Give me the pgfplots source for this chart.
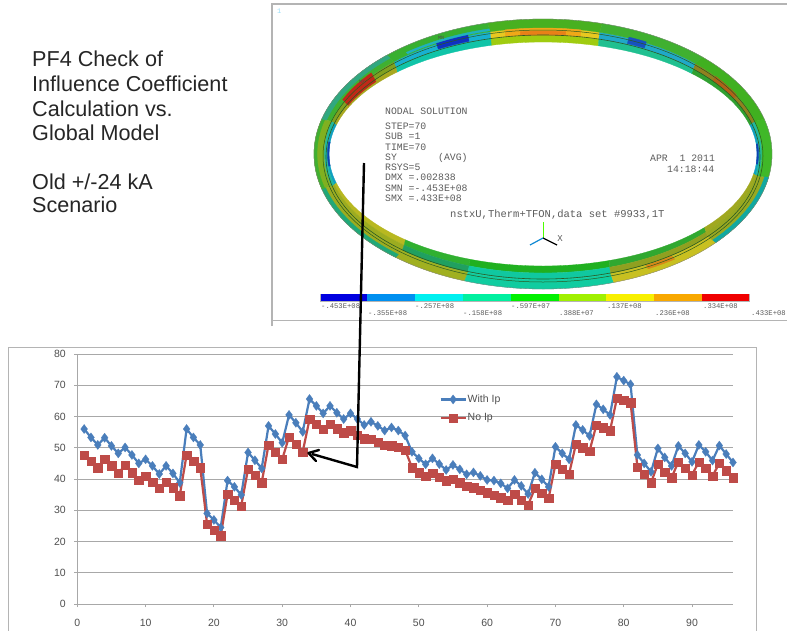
\documentclass[border=0pt]{standalone}
\usepackage{pgfplots}
\pgfplotsset{compat=1.18}
\usepackage{fontspec}
\setmainfont{Liberation Sans}
\newfontfamily\ansys{Liberation Mono}
\usetikzlibrary{calc}
\definecolor{ipblue}{HTML}{4A7EBB}
\definecolor{ipred}{HTML}{BE4B48}
\definecolor{gridgray}{HTML}{A8A8A8}
\definecolor{frameg}{HTML}{B4B4B4}
\definecolor{anstext}{HTML}{5C5C5C}
\definecolor{labgray}{HTML}{505050}
\definecolor{darkline}{HTML}{2A5A20}
\newcommand{\band}[7]{%
  \definecolor{tmpc}{HTML}{#7}%
  \fill[tmpc,draw=tmpc,line width=.3pt] ($(543pt,-154pt)+(#1:#5pt and #6pt)$)
    arc[start angle=#1,end angle=#2,x radius=#5pt,y radius=#6pt]
    -- ($(543pt,-154pt)+(#2:#3pt and #4pt)$)
    arc[start angle=#2,end angle=#1,x radius=#3pt,y radius=#4pt] -- cycle;}
\newcommand{\seg}[5]{%
  \band{#1}{#2}{214}{112}{216}{119}{#3}%
  \band{#1}{#2}{216}{119}{219}{126}{#4}%
  \band{#1}{#2}{219}{126}{229}{135}{#5}}
\newcommand{\cbar}[3]{%
  \definecolor{tmpc}{HTML}{#3}%
  \fill[tmpc] (#1pt,-294.3pt) rectangle (#2pt,-300.8pt);}
\pgfplotstableread{
x with noip
1 56.0 47.7
2 53.3 45.7
3 50.9 43.6
4 53.2 46.4
5 50.6 44.3
6 48.2 41.8
7 50.1 44.4
8 47.7 42.0
9 45.0 39.7
10 46.3 41.0
11 44.2 39.1
12 41.6 37.0
13 44.2 39.1
14 41.8 37.2
15 38.8 34.7
16 56.0 47.7
17 53.3 45.7
18 50.9 43.6
19 29.0 25.6
20 26.9 23.7
21 24.5 21.9
22 39.5 35.1
23 37.5 33.3
24 34.9 31.4
25 48.5 43.2
26 46.0 41.3
27 43.4 38.9
28 57.0 50.9
29 54.4 48.7
30 51.6 46.3
31 60.5 53.5
32 58.0 51.2
33 55.1 48.7
34 65.6 59.1
35 63.4 57.6
36 61.0 55.9
37 63.4 57.6
38 61.2 56.1
39 59.2 54.8
40 61.0 55.5
41 59.2 54.1
42 57.3 52.9
43 58.3 52.7
44 57.0 51.9
45 55.5 50.9
46 56.5 50.7
47 55.5 50.3
48 53.9 49.3
49 48.7 43.7
50 46.6 42.1
51 44.7 41.0
52 46.6 41.8
53 44.8 40.7
54 42.9 39.5
55 44.5 39.9
56 43.1 38.8
57 41.5 37.8
58 42.1 37.3
59 41.0 36.5
60 39.7 35.6
61 39.5 34.9
62 38.6 34.1
63 37.0 33.3
64 39.7 35.2
65 37.8 33.3
66 35.2 31.7
67 42.0 37.0
68 39.9 35.4
69 37.5 33.8
70 50.3 44.7
71 48.2 43.1
72 46.3 41.6
73 57.3 51.2
74 55.7 50.1
75 53.8 49.0
76 63.9 57.3
77 62.3 56.4
78 60.5 55.5
79 72.7 65.8
80 71.5 65.3
81 70.3 64.5
82 47.7 43.9
83 45.0 41.5
84 42.3 38.8
85 49.8 44.8
86 46.9 42.3
87 44.2 40.4
88 50.6 45.5
89 48.2 43.4
90 45.5 41.3
91 50.9 45.5
92 48.7 43.4
93 45.9 41.0
94 50.7 45.0
95 48.0 42.7
96 45.3 40.4
}\ipdata
\begin{document}
\begin{tikzpicture}
\useasboundingbox (0,0) rectangle (787pt,-630pt);
\fill[white] (0,0) rectangle (787pt,-630pt);
% title text
\begin{scope}[every node/.style={anchor=base west,inner sep=0pt,text=black!85}]
\node at (32pt,-66.7pt) {\fontsize{21.6}{24}\selectfont PF4 Check of};
\node at (32pt,-91.7pt) {\fontsize{21.6}{24}\selectfont Influence Coefficient};
\node at (32pt,-116pt) {\fontsize{21.6}{24}\selectfont Calculation vs.};
\node at (32pt,-140pt) {\fontsize{21.6}{24}\selectfont Global Model};
\node at (32pt,-189pt) {\fontsize{21.6}{24}\selectfont Old +/-24 kA};
\node at (32pt,-212.7pt) {\fontsize{21.6}{24}\selectfont Scenario};
\end{scope}
% upper frame
\draw[frameg,line width=1.3pt] (272pt,-326pt) -- (272pt,-4pt) -- (787pt,-4pt);
\draw[frameg,line width=1.3pt] (272pt,-320.5pt) -- (787pt,-320.5pt);
\node[anchor=base west,inner sep=0pt,text=cyan!40] at (277pt,-13pt) {\ansys\fontsize{7}{8}\selectfont 1};
% ring
\seg{75}{104}{A0CC10}{E8C820}{48B020}
\seg{104}{133}{10C4A8}{18B0D0}{38B030}
\seg{133}{165}{A8A820}{80A020}{40B030}
\seg{165}{195}{10A0C0}{20B8A0}{80B020}
\seg{195}{230}{B8B820}{9CAC20}{9CAC20}
\seg{230}{250}{30B030}{20A060}{A0B020}
\seg{250}{288}{20B020}{10C8A0}{10CCA0}
\seg{288}{319}{30A830}{90A020}{C8C020}
\seg{319}{350}{A0A820}{98A820}{98A820}
\seg{350}{375}{10A0C0}{20B8A0}{40B828}
\seg{15}{46}{30A030}{908020}{40B020}
\seg{46}{75}{20C090}{20A8C8}{40B030}
% outer rims and stronger spots
\band{195}{230}{225}{131}{229}{135}{20A878}
\band{319}{350}{225}{131}{229}{135}{10A8A0}
\band{165}{195}{226}{132}{229}{135}{40B030}
\band{80}{100}{216}{119}{219}{126}{F0A818}
\band{84}{96}{216}{119}{218}{123}{E88018}
\band{110}{119}{216}{120}{220}{127}{1030C0}
\band{104}{128}{220}{127}{222}{129}{20B0C0}
\band{141}{155}{215}{115}{221}{129}{C02818}
\band{133}{165}{224}{131}{229}{135}{30A880}
\band{62}{67}{216}{120}{220}{127}{1850C0}
\band{174}{186}{214}{112}{215.5}{117}{1040B0}
\band{-5}{5}{214}{112}{215.5}{117}{1040B0}
\band{28}{38}{216}{119}{219}{126}{B06018}
\band{298}{306}{219}{126}{224}{130}{D88818}
% dark structural lines
\draw[darkline,line width=.6pt] (543pt,-157pt) ellipse [x radius=217pt,y radius=122pt];
\draw[darkline,line width=.5pt] (543pt,-156pt) ellipse [x radius=220pt,y radius=126pt];
\draw[black!50,line width=.3pt] (543pt,-154pt) ellipse [x radius=229pt,y radius=135pt];
\node[inner sep=0pt,text=black!70] at (441pt,-38pt) {\ansys\fontsize{5}{6}\selectfont MN};
\node[inner sep=0pt,text=black!70] at (362pt,-82pt) {\ansys\fontsize{5}{6}\selectfont MX};
% triad
\draw[green!70!yellow,line width=1pt] (543pt,-238pt) -- (543pt,-222pt);
\draw[black,line width=1.2pt] (543pt,-238pt) -- (557pt,-245pt);
\draw[cyan!70!blue,line width=1.2pt] (543pt,-238pt) -- (530pt,-245pt);
\node[inner sep=0pt,text=anstext] at (560pt,-239pt) {\ansys\fontsize{9}{9}\selectfont X};
% ansys text
\begin{scope}[every node/.style={anchor=base west,inner sep=0pt,text=anstext}]
\node at (385pt,-114pt) {\ansys\fontsize{9.8}{10}\selectfont NODAL SOLUTION};
\node at (385pt,-129pt) {\ansys\fontsize{9.8}{10}\selectfont STEP=70};
\node at (385pt,-139pt) {\ansys\fontsize{9.8}{10}\selectfont SUB =1};
\node at (385pt,-150pt) {\ansys\fontsize{9.8}{10}\selectfont TIME=70};
\node at (385pt,-160pt) {\ansys\fontsize{9.8}{10}\selectfont SY\ \ \ \ \ \ \ (AVG)};
\node at (385pt,-170pt) {\ansys\fontsize{9.8}{10}\selectfont RSYS=5};
\node at (385pt,-180pt) {\ansys\fontsize{9.8}{10}\selectfont DMX =.002838};
\node at (385pt,-191pt) {\ansys\fontsize{9.8}{10}\selectfont SMN =-.453E+08};
\node at (385pt,-201pt) {\ansys\fontsize{9.8}{10}\selectfont SMX =.433E+08};
\node at (450pt,-217pt) {\ansys\fontsize{10.5}{11}\selectfont nstxU,Therm+TFON,data set \#9933,1T};
\node at (650pt,-161pt) {\ansys\fontsize{9.8}{10}\selectfont APR\ \ 1 2011};
\node at (667pt,-172pt) {\ansys\fontsize{9.8}{10}\selectfont 14:18:44};
\node at (321pt,-308pt) {\ansys\fontsize{7.2}{8}\selectfont -.453E+08};
\node at (415pt,-308pt) {\ansys\fontsize{7.2}{8}\selectfont -.257E+08};
\node at (511pt,-308pt) {\ansys\fontsize{7.2}{8}\selectfont -.597E+07};
\node at (607pt,-308pt) {\ansys\fontsize{7.2}{8}\selectfont .137E+08};
\node at (703pt,-308pt) {\ansys\fontsize{7.2}{8}\selectfont .334E+08};
\node at (368pt,-315pt) {\ansys\fontsize{7.2}{8}\selectfont -.355E+08};
\node at (463pt,-315pt) {\ansys\fontsize{7.2}{8}\selectfont -.158E+08};
\node at (559pt,-315pt) {\ansys\fontsize{7.2}{8}\selectfont .388E+07};
\node at (655pt,-315pt) {\ansys\fontsize{7.2}{8}\selectfont .236E+08};
\node at (751pt,-315pt) {\ansys\fontsize{7.2}{8}\selectfont .433E+08};
\end{scope}
% colour bar
\fill[frameg] (320.2pt,-293.5pt) rectangle (749.8pt,-301.5pt);
\cbar{321}{367.4}{0000E0}
\cbar{367.4}{415}{0090F0}
\cbar{415}{463.3}{00F0F0}
\cbar{463.3}{511}{00F0A0}
\cbar{511}{558.7}{00F000}
\cbar{558.7}{606.3}{A0F000}
\cbar{606.3}{654}{F8F000}
\cbar{654}{702}{F8A800}
\cbar{702}{749.3}{F00000}
% chart frame
\draw[frameg,line width=1pt,fill=white] (8pt,-640pt) -- (8pt,-347pt) -- (756pt,-347pt) -- (756pt,-640pt);
\begin{axis}[
  at={(77.3pt,-604pt)},anchor=south west,
  scale only axis,width=655.7pt,height=250pt,
  xmin=0,xmax=96,ymin=0,ymax=80,
  axis x line*=bottom,axis y line*=left,
  axis line style={gridgray,line width=.9pt,-},
  xtick={0,10,...,90},ytick={0,10,...,80},
  tick align=outside,
  major tick length=3pt,
  tick style={gridgray,line width=.9pt},
  ymajorgrids,
  grid style={gridgray,line width=1pt},
  clip=false,
  /pgf/number format/assume math mode=true,
  tick label style={font=\fontsize{10.5}{12}\selectfont,text=labgray},
  x tick label style={yshift=-9pt},
  y tick label style={xshift=-5pt},
  legend cell align=left,
  legend style={at={(axis cs:53,67)},anchor=north west,draw=none,fill=none,
    font=\fontsize{10.5}{12}\selectfont,text=labgray,row sep=9.5pt,inner sep=0pt,
    nodes={inner xsep=1pt,inner ysep=0pt}},
  legend image code/.code={\draw[mark repeat=2,mark phase=2,#1] plot coordinates {(0pt,0pt)(12.5pt,0pt)(25pt,0pt)};},
]
\addplot[ipblue,line width=2.2pt,mark=diamond*,mark size=4.6pt,mark options={fill=ipblue,draw=ipblue,line width=.2pt}] table[x=x,y=with] {\ipdata};
\addlegendentry{With Ip}
\addplot[ipred,line width=2.2pt,mark=square*,mark size=4.2pt,mark options={fill=ipred,draw=ipred,line width=.2pt}] table[x=x,y=noip] {\ipdata};
\addlegendentry{No Ip}
\end{axis}
% callout arrow
\draw[black,line width=2.4pt,line join=miter] (364pt,-163pt) -- (357pt,-467pt) -- (312pt,-454pt);
\draw[black,line width=2.4pt,line cap=round,line join=round] (319pt,-450pt) -- (308.5pt,-453pt) -- (316pt,-461pt);
\end{tikzpicture}
\end{document}
